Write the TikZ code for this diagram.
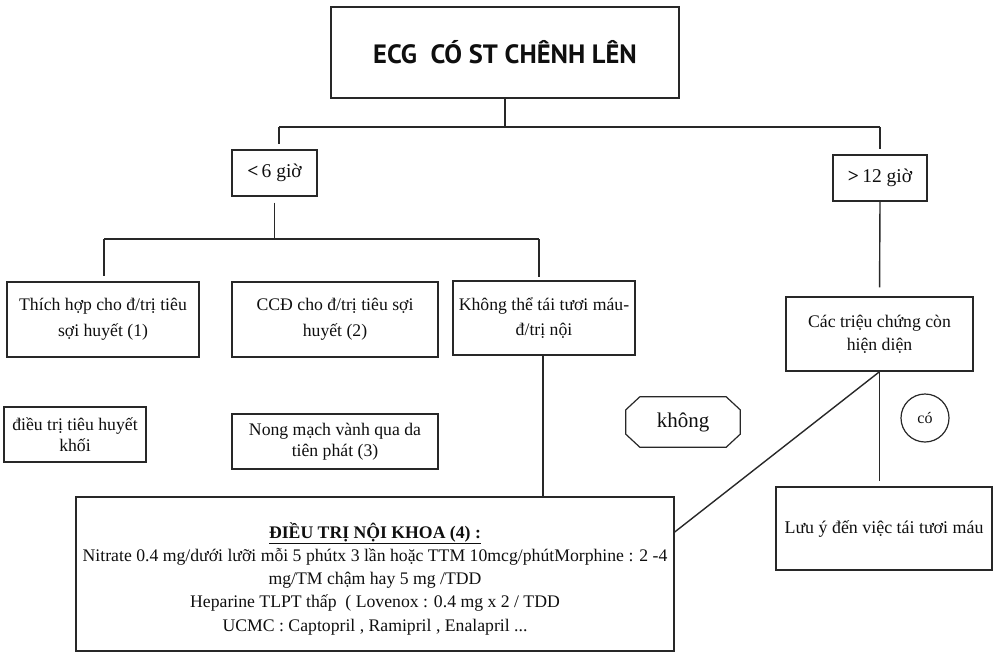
\documentclass[tikz,border=0pt]{standalone}
\usepackage{fontspec}
\setmainfont{Liberation Serif}
\newfontfamily\titlefont{PT Sans}
\usetikzlibrary{calc}
\definecolor{ink}{RGB}{40,40,40}
\definecolor{txt}{RGB}{15,15,15}
\tikzset{
  box/.style={draw=ink, line width=1.4pt, inner sep=0pt, align=center, text=txt},
  conn/.style={draw=ink, line width=1.4pt},
  bodyfont/.style={font=\fontsize{17.7}{26}\selectfont},
  smallfont/.style={font=\fontsize{17.7}{21}\selectfont},
}
\begin{document}
\begin{tikzpicture}[x=1pt,y=-1pt]
\useasboundingbox (0,0) rectangle (995,653);
% nodes
\node[box, minimum width=348, minimum height=91] (title) at (505,52.5)
  {\titlefont\bfseries\fontsize{26.5}{28}\selectfont ECG\ \ CÓ ST CHÊNH LÊN};
\node[box, minimum width=85, minimum height=46, font=\fontsize{19.5}{22}\selectfont] (lt6) at (274.5,173) {\textbf{<}\,6 giờ};
\node[box, minimum width=94, minimum height=46, font=\fontsize{19.5}{22}\selectfont] (gt12) at (880,178) {\textbf{>}\,12 giờ};
\node[box, bodyfont, minimum width=192, minimum height=75] (b1) at (103,319.5) {Thích hợp cho đ/trị tiêu\\sợi huyết (1)};
\node[box, bodyfont, minimum width=206, minimum height=75] (b2) at (335,319.5) {CCĐ cho đ/trị tiêu sợi\\huyết (2)};
\node[box, font=\fontsize{17.7}{25}\selectfont, minimum width=182, minimum height=74] (b3) at (544,318) {Không thể tái tươi máu-\\đ/trị nội};
\node[box, font=\fontsize{17.7}{23}\selectfont, minimum width=187, minimum height=74] (b4) at (879.5,334) {Các triệu chứng còn\\hiện diện};
\node[box, smallfont, minimum width=142, minimum height=55] (b5) at (75,434.5) {điều trị tiêu huyết\\khối};
\node[box, smallfont, minimum width=206, minimum height=55] (b6) at (335,441.5) {Nong mạch vành qua da\\tiên phát (3)};
\node[inner sep=0pt, minimum width=114, minimum height=50, text=txt, font=\fontsize{21}{23}\selectfont] (no) at (683,422) {không};
\draw[conn, line width=1.2pt] ([xshift=14]no.north west) -- ([xshift=-14]no.north east)
  -- ([yshift=-13]no.north east) -- ([yshift=13]no.south east)
  -- ([xshift=-14]no.south east) -- ([xshift=14]no.south west)
  -- ([yshift=13]no.south west) -- ([yshift=-13]no.north west) -- cycle;
\node[draw=ink, line width=1.2pt, circle, inner sep=0pt, minimum size=48, text=txt, font=\fontsize{16}{18}\selectfont] (yes) at (925,418) {có};
\node[box, font=\fontsize{17.9}{22}\selectfont, minimum width=216, minimum height=83] (b7) at (884,528.5) {Lưu ý đến việc tái tươi máu};
\node[box, font=\fontsize{17.7}{23.3}\selectfont, minimum width=598, minimum height=154] (big) at (375,574)
  {\rule{0pt}{25pt}\underline{\textbf{ĐIỀU TRỊ NỘI KHOA (4) :}}\\
   Nitrate 0.4 mg/dưới lưỡi mỗi 5 phútx 3 lần hoặc TTM 10mcg/phútMorphine : 2 -4\\
   mg/TM chậm hay 5 mg /TDD\\
   Heparine TLPT thấp\ \ ( Lovenox : 0.4 mg x 2 / TDD\\
   UCMC : Captopril , Ramipril , Enalapril ...};
% connectors
\coordinate (hL) at (279,127);
\coordinate (hR) at (880,127);
\coordinate (h2L) at (104,239);
\coordinate (h2R) at (539,239);
\draw[conn] (title.south) -- (title.south |- hL);
\draw[conn] (hL) -- (hR);
\draw[conn, shorten >=5pt] (hL) -- (hL |- lt6.north);
\draw[conn, shorten >=5pt] (hR) -- (gt12.north);
\draw[conn, shorten <=6pt] (lt6.south) -- (lt6.south |- h2L);
\draw[conn] (h2L) -- (h2R);
\draw[conn, shorten >=5pt] (h2L) -- (h2L |- b1.north);
\draw[conn, shorten >=3pt] (h2R) -- (h2R |- b3.north);
\draw[conn, shorten >=9pt] (gt12.south) -- (b4.north);
\draw[conn] ([xshift=-1]b3.south) -- ([xshift=-1]b3.south |- big.north);
\draw[conn] (b4.south) -- (big.east |- 0,532);
\draw[conn, shorten >=5pt] (b4.south) -- (b4.south |- b7.north);
\end{tikzpicture}
\end{document}
